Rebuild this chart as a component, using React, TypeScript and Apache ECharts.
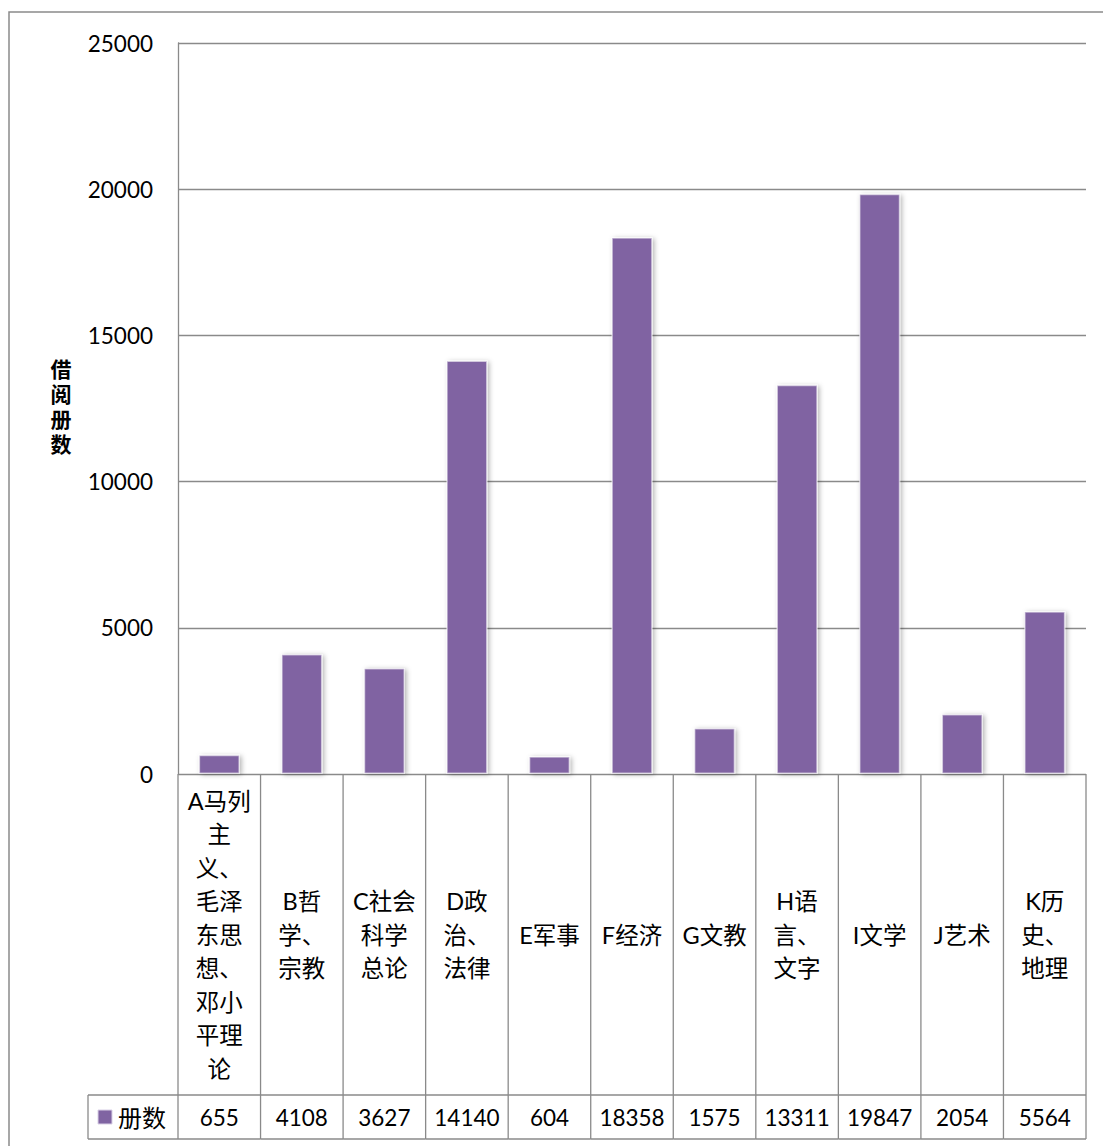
import React, { useEffect, useRef } from "react";
import * as echarts from "echarts";

const categoryLabels: string[] = [
  "A马列\n主\n义、\n毛泽\n东思\n想、\n邓小\n平理\n论",
  "B哲\n学、\n宗教",
  "C社会\n科学\n总论",
  "D政\n治、\n法律",
  "E军事",
  "F经济",
  "G文教",
  "H语\n言、\n文字",
  "I文学",
  "J艺术",
  "K历\n史、\n地理",
];
const values: number[] = [655, 4108, 3627, 14140, 604, 18358, 1575, 13311, 19847, 2054, 5564];
const seriesName = "册数";
const yAxisTitle = "借阅册数";
const yMin = 0;
const yMax = 25000;
const yInterval = 5000;

const BAR = "#8064A2";
const LINE = "#8a8a8a";
const FONT = "Lato, 'Noto Sans CJK SC', sans-serif";

export default function App() {
  const ref = useRef<HTMLDivElement>(null);
  useEffect(() => {
    if (!ref.current) return;
    const chart = echarts.init(ref.current, undefined, { renderer: "svg" });
    const CAT_ROW = 321;
    const VAL_ROW = 44;
    const LEG_W = 90;
    const option: any = {
      animation: false,
      backgroundColor: "#ffffff",
      grid: { left: 178, top: 43, right: 17, bottom: 372, containLabel: false },
      xAxis: {
        type: "category",
        data: categoryLabels,
        boundaryGap: true,
        axisLine: { show: false },
        axisTick: { show: false },
        axisLabel: { show: false },
        splitLine: { show: false },
      },
      yAxis: {
        type: "value",
        min: yMin,
        max: yMax,
        interval: yInterval,
        axisLine: { show: true, lineStyle: { color: LINE, width: 1.3 } },
        axisTick: { show: false },
        axisLabel: {
          color: "#000",
          fontFamily: FONT,
          fontSize: 22.5,
          margin: 25,
          formatter: (v: number) => String(v),
        },
        splitLine: { show: true, lineStyle: { color: LINE, width: 1.3 } },
      },
      graphic: [
        {
          type: "rect",
          shape: { x: 9, y: 12, width: 1200, height: 1200 },
          style: { fill: "none", stroke: LINE, lineWidth: 1.5 },
          silent: true,
          z: -10,
        },
        {
          type: "text",
          x: 61,
          y: 406,
          style: {
            text: yAxisTitle.split("").join("\n"),
            fill: "#000",
            fontFamily: FONT,
            fontSize: 21,
            fontWeight: "bold",
            lineHeight: 25,
            align: "center",
            verticalAlign: "middle",
          },
          silent: true,
        },
      ],
      series: [
        {
          name: seriesName,
          type: "bar",
          data: values,
          barWidth: "50%",
          itemStyle: {
            color: BAR,
            borderColor: "rgba(255,255,255,0.55)",
            borderWidth: 1.5,
            shadowColor: "rgba(0,0,0,0.3)",
            shadowBlur: 5,
            shadowOffsetX: 2,
            shadowOffsetY: 1,
          },
          z: 3,
        },
        {
          type: "custom",
          silent: true,
          clip: false,
          z: 5,
          encode: { x: 0, y: 1 },
          data: values.map((v, i) => [i, v]),
          renderItem: (params: any, api: any) => {
            const idx = api.value(0);
            const [cx, y0] = api.coord([idx, 0]);
            const w = api.size([1, 0])[0];
            const left = cx - w / 2;
            const right = cx + w / 2;
            const yMid = y0 + CAT_ROW;
            const yBot = y0 + CAT_ROW + VAL_ROW;
            const ls = { stroke: LINE, lineWidth: 1.3 };
            const children: any[] = [
              { type: "line", shape: { x1: right, y1: y0, x2: right, y2: yBot }, style: ls },
              { type: "line", shape: { x1: left, y1: yMid, x2: right, y2: yMid }, style: ls },
              { type: "line", shape: { x1: left, y1: yBot, x2: right, y2: yBot }, style: ls },
              {
                type: "text",
                x: cx,
                y: y0 + CAT_ROW / 2,
                style: {
                  text: categoryLabels[idx],
                  fill: "#000",
                  fontFamily: FONT,
                  fontSize: 23.5,
                  lineHeight: 33.5,
                  align: "center",
                  verticalAlign: "middle",
                },
              },
              {
                type: "text",
                x: cx,
                y: yMid + VAL_ROW / 2,
                style: {
                  text: String(values[idx]),
                  fill: "#000",
                  fontFamily: FONT,
                  fontSize: 22.5,
                  align: "center",
                  verticalAlign: "middle",
                },
              },
            ];
            if (idx === 0) {
              children.push(
                { type: "line", shape: { x1: left, y1: y0, x2: left, y2: yBot }, style: ls },
                { type: "line", shape: { x1: left - LEG_W, y1: yMid, x2: left, y2: yMid }, style: ls },
                { type: "line", shape: { x1: left - LEG_W, y1: yBot, x2: left, y2: yBot }, style: ls },
                { type: "line", shape: { x1: left - LEG_W, y1: yMid, x2: left - LEG_W, y2: yBot }, style: ls },
                {
                  type: "rect",
                  shape: { x: left - LEG_W + 10, y: yMid + VAL_ROW / 2 - 7, width: 14, height: 14 },
                  style: { fill: BAR, stroke: "#d9d0e6", lineWidth: 1 },
                },
                {
                  type: "text",
                  x: left - LEG_W + 30,
                  y: yMid + VAL_ROW / 2,
                  style: {
                    text: seriesName,
                    fill: "#000",
                    fontFamily: FONT,
                    fontSize: 24,
                    align: "left",
                    verticalAlign: "middle",
                  },
                }
              );
            }
            return { type: "group", children };
          },
        },
      ],
    };
    chart.setOption(option);
    return () => chart.dispose();
  }, []);
  return (
    <div
      ref={ref}
      style={{ position: "fixed", left: 0, top: 0, width: 1103, height: 1146, background: "#fff" }}
    />
  );
}
